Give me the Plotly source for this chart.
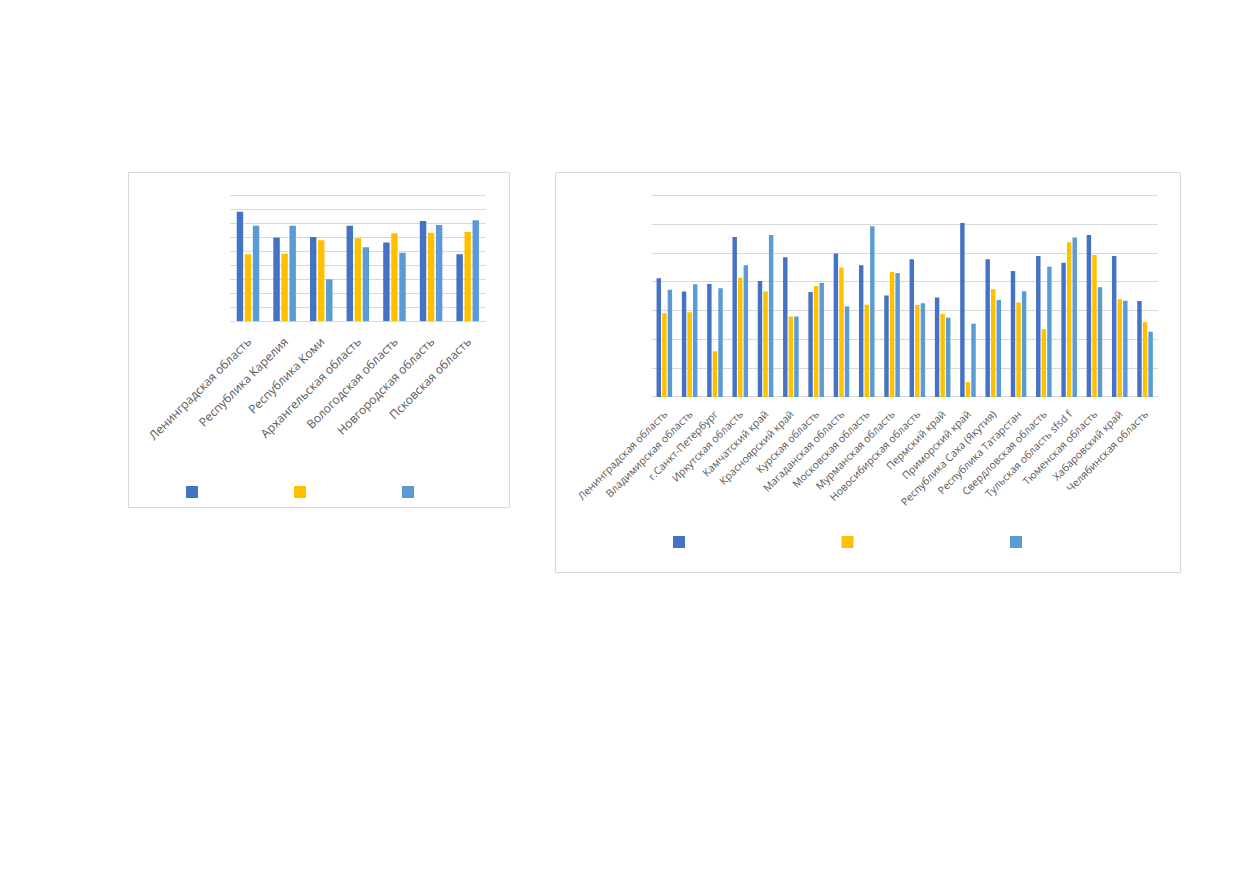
import plotly.graph_objects as go

PAGE_MARGIN = 8          # default body margin of the html page
W, H = 1239 - 2 * PAGE_MARGIN, 872 - 2 * PAGE_MARGIN

# ---- data: left chart ----
left_regions = ["Ленинградская область", "Республика Карелия", "Республика Коми",
                "Архангельская область", "Вологодская область", "Новгородская область",
                "Псковская область"]
left_s1 = [7.83, 5.98, 6.02, 6.83, 5.62, 7.17, 4.79]
left_s2 = [4.79, 4.83, 5.79, 5.93, 6.29, 6.33, 6.38]
left_s3 = [6.83, 6.83, 3.00, 5.29, 4.90, 6.88, 7.21]

# ---- data: right chart ----
right_regions = ["Ленинградская область", "Владимирская область", "г.Санкт-Петербург",
                 "Иркутская область", "Камчатский край", "Красноярский край",
                 "Курская область", "Магаданская область", "Московская область",
                 "Мурманская область", "Новосибирская область", "Пермский край",
                 "Приморский край", "Республика Саха (Якутия)", "Республика Татарстан",
                 "Свердловская область", "Тульская область sfsd f", "Тюменская область",
                 "Хабаровский край", "Челябинская область"]
right_s1 = [4.13, 3.67, 3.93, 5.56, 4.03, 4.86, 3.65, 4.99, 4.58, 3.53,
            4.79, 3.46, 6.05, 4.79, 4.38, 4.90, 4.67, 5.63, 4.90, 3.34]
right_s2 = [2.91, 2.95, 1.59, 4.15, 3.67, 2.80, 3.86, 4.50, 3.21, 4.35,
            3.20, 2.89, 0.52, 3.75, 3.29, 2.36, 5.38, 4.94, 3.40, 2.60]
right_s3 = [3.73, 3.92, 3.78, 4.58, 5.63, 2.80, 3.97, 3.15, 5.94, 4.31,
            3.26, 2.76, 2.55, 3.37, 3.68, 4.53, 5.55, 3.82, 3.35, 2.27]

colors = ["#4472C4", "#FFC000", "#5B9BD5"]
grid = "#D9D9D9"
txt = "#595959"

def px_x(x):
    return (x - PAGE_MARGIN) / W

def px_y(y):
    return 1 - (y - PAGE_MARGIN) / H

# left value axis: 0 at y=321.3px, 9 at y=195.3px; right: 0 at 397px, 7 at 195.7px
L_BASE, L_TOP, L_MAX = 321.3, 195.3, 9
R_BASE, R_TOP, R_MAX = 397.0, 195.7, 7
L_UNIT = (L_BASE - L_TOP) / L_MAX
R_UNIT = (R_BASE - R_TOP) / R_MAX
L_EXT = L_MAX + 0.15   # small headroom so the top gridline is drawn
R_EXT = R_MAX + 0.07

fig = go.Figure()

for s, c in zip([left_s1, left_s2, left_s3], colors):
    fig.add_trace(go.Bar(x=left_regions, y=s, marker=dict(color=c, line=dict(width=0)),
                         name=" ", xaxis="x", yaxis="y", legend="legend"))
for s, c in zip([right_s1, right_s2, right_s3], colors):
    fig.add_trace(go.Bar(x=right_regions, y=s, marker=dict(color=c, line=dict(width=0)),
                         name=" ", xaxis="x2", yaxis="y2", legend="legend2"))

axis_common = dict(showline=False, ticks="", fixedrange=True, automargin=False)

fig.update_layout(
    width=W, height=H,
    margin=dict(l=0, r=0, t=0, b=0, autoexpand=False),
    paper_bgcolor="white", plot_bgcolor="white",
    font=dict(family="Open Sans", color=txt),
    barmode="group", bargap=0.34, bargroupgap=0.2,
    xaxis=dict(domain=[px_x(229.7), px_x(486)], anchor="y", tickangle=-45,
               ticklabelstandoff=10,
               tickfont=dict(size=12, color=txt), showgrid=False, **axis_common),
    yaxis=dict(domain=[px_y(L_BASE), px_y(L_BASE - L_EXT * L_UNIT)], anchor="x",
               range=[0, L_EXT], tick0=0, dtick=1,
               showticklabels=False, showgrid=True, gridcolor=grid, gridwidth=1,
               zeroline=True, zerolinecolor=grid, zerolinewidth=1, **axis_common),
    xaxis2=dict(domain=[px_x(651.7), px_x(1157.7)], anchor="y2", tickangle=-45,
                ticklabelstandoff=8,
                tickfont=dict(size=10.5, color=txt), showgrid=False, **axis_common),
    yaxis2=dict(domain=[px_y(R_BASE), px_y(R_BASE - R_EXT * R_UNIT)], anchor="x2",
                range=[0, R_EXT], tick0=0, dtick=1,
                showticklabels=False, showgrid=True, gridcolor=grid, gridwidth=1,
                zeroline=True, zerolinecolor=grid, zerolinewidth=1, **axis_common),
    legend=dict(orientation="h", x=px_x(172), y=px_y(492), xanchor="left", yanchor="middle",
                entrywidth=63, entrywidthmode="pixels", bgcolor="rgba(0,0,0,0)",
                font=dict(size=10, color=txt), itemclick=False, itemdoubleclick=False),
    legend2=dict(orientation="h", x=px_x(659), y=px_y(542), xanchor="left", yanchor="middle",
                 entrywidth=123.5, entrywidthmode="pixels", bgcolor="rgba(0,0,0,0)",
                 font=dict(size=10, color=txt), itemclick=False, itemdoubleclick=False),
    shapes=[
        dict(type="rect", xref="paper", yref="paper", x0=px_x(128.5), x1=px_x(509.5),
             y0=px_y(507.5), y1=px_y(172.5), line=dict(color=grid, width=1)),
        dict(type="rect", xref="paper", yref="paper", x0=px_x(555.5), x1=px_x(1180.5),
             y0=px_y(572.5), y1=px_y(172.5), line=dict(color=grid, width=1)),
    ],
)

fig.write_html("out.html")
